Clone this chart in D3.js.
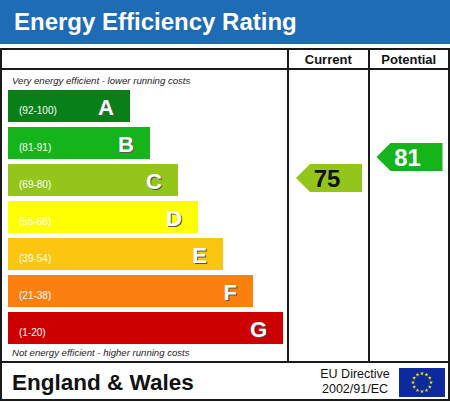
<!DOCTYPE html>
<html>
<head>
<meta charset="utf-8">
<script src="https://cdn.jsdelivr.net/npm/d3@7"></script>
<style>
  body { margin: 0; background: #fff; }
  text { font-family: "Liberation Sans", Arial, sans-serif; }
</style>
</head>
<body>
<svg></svg>
<script>
// band data
const bandLetters = ['A', 'B', 'C', 'D', 'E', 'F', 'G'];
const bandRanges = ['(92-100)', '(81-91)', '(69-80)', '(55-68)', '(39-54)', '(21-38)', '(1-20)'];
const bandMin = [92, 81, 69, 55, 39, 21, 1];
const bandColors = ['#097f18', '#14b41a', '#93c51a', '#ffff00', '#fcc50f', '#fb8010', '#cc0000'];

// ratings
const ratingColumns = ['Current', 'Potential'];
const ratingValues = [75, 81];

const svg = d3.select('svg')
	.attr('width', 450)
	.attr('height', 402);

let width = +svg.attr('width'),
	height = +svg.attr('height'),
	boxTop = 49,
	headRow = 69,
	footTop = 362,
	colX = [288, 369, 449];

const bandOf = v => bandLetters[bandMin.findIndex(m => v >= m)];

const yScale = d3.scaleBand()
	.domain(bandLetters)
	.range([90, 344])
	.paddingInner(5 / 37)
	.paddingOuter(0);

const barWidth = d3.scaleOrdinal()
	.domain(bandLetters)
	.range([122, 142, 170, 190, 215, 245, 275]);

const color = d3.scaleOrdinal()
	.domain(bandLetters)
	.range(bandColors);

// arrow top from score
const arrowY = d3.scaleLinear()
	.domain([0, 100])
	.range([426.5, 76.5]);

const colScale = d3.scaleBand()
	.domain(ratingColumns)
	.range([colX[0], colX[2]]);

// header band
svg.append('rect')
	.attr('width', width)
	.attr('height', 44)
	.attr('fill', '#1e6bb6');
svg.append('text')
	.attr('x', 14)
	.attr('y', 30)
	.attr('fill', '#fff')
	.attr('font-weight', 'bold')
	.attr('font-size', 24)
	.text('Energy Efficiency Rating');

// frame
const grid = svg.append('g')
	.attr('stroke', '#1a1a1a')
	.attr('stroke-width', 2)
	.attr('fill', 'none');
grid.append('rect')
	.attr('x', 1)
	.attr('y', boxTop)
	.attr('width', width - 2)
	.attr('height', 351);
grid.append('line')
	.attr('x1', 1).attr('x2', width - 1)
	.attr('y1', headRow).attr('y2', headRow);
grid.append('line')
	.attr('x1', 1).attr('x2', width - 1)
	.attr('y1', footTop).attr('y2', footTop);
grid.selectAll('.col')
	.data(colX.slice(0, 2))
	.enter().append('line')
	.attr('x1', d => d).attr('x2', d => d)
	.attr('y1', boxTop).attr('y2', footTop);

svg.selectAll('.colHead')
	.data(ratingColumns)
	.enter().append('text')
	.attr('x', d => colScale(d) + colScale.bandwidth() / 2)
	.attr('y', 64)
	.attr('text-anchor', 'middle')
	.attr('font-weight', 'bold')
	.attr('font-size', 13)
	.attr('fill', '#111')
	.text(d => d);

svg.append('text')
	.attr('x', 12)
	.attr('y', 84)
	.attr('font-style', 'italic')
	.attr('font-size', 9.6)
	.attr('fill', '#222')
	.text('Very energy efficient - lower running costs');
svg.append('text')
	.attr('x', 12)
	.attr('y', 356)
	.attr('font-style', 'italic')
	.attr('font-size', 9.6)
	.attr('fill', '#222')
	.text('Not energy efficient - higher running costs');

// bars
const bars = svg.selectAll('.band')
	.data(bandLetters)
	.enter().append('g')
	.attr('class', 'band')
	.attr('transform', d => `translate(8, ${yScale(d)})`);

bars.append('rect')
	.attr('width', d => barWidth(d))
	.attr('height', yScale.bandwidth())
	.attr('fill', d => color(d));

bars.append('text')
	.attr('x', 11)
	.attr('y', 24)
	.attr('font-size', 10)
	.attr('fill', '#fff')
	.text((d, i) => bandRanges[i]);

bars.append('text')
	.attr('x', d => barWidth(d) - 15)
	.attr('y', 26)
	.attr('text-anchor', 'end')
	.attr('font-weight', 'bold')
	.attr('font-size', 22)
	.attr('fill', '#555')
	.text(d => d);
bars.append('text')
	.attr('x', d => barWidth(d) - 16)
	.attr('y', 25)
	.attr('text-anchor', 'end')
	.attr('font-weight', 'bold')
	.attr('font-size', 22)
	.attr('fill', '#fff')
	.text(d => d);

// rating arrows
const arrows = svg.selectAll('.arrow')
	.data(ratingValues)
	.enter().append('g')
	.attr('class', 'arrow')
	.attr('transform', (d, i) => `translate(${colScale(ratingColumns[i]) + 8}, ${arrowY(d)})`);

const aw = 66, ah = 28, tip = 14;
arrows.append('path')
	.attr('d', `M0,${ah / 2}L${tip},0H${aw}V${ah}H${tip}Z`)
	.attr('fill', d => color(bandOf(d)));

arrows.append('text')
	.attr('x', aw / 2 - 2)
	.attr('y', ah / 2 + 9)
	.attr('text-anchor', 'middle')
	.attr('font-weight', 'bold')
	.attr('font-size', 24)
	.attr('fill', d => bandOf(d) === 'C' || bandOf(d) === 'D' ? '#111' : '#fff')
	.text(d => d);

// footer
svg.append('text')
	.attr('x', 12)
	.attr('y', 390)
	.attr('font-weight', 'bold')
	.attr('font-size', 22.5)
	.attr('fill', '#111')
	.text('England & Wales');

const directive = svg.append('g')
	.attr('font-size', 12.5)
	.attr('fill', '#111')
	.attr('text-anchor', 'middle');
directive.append('text')
	.attr('x', 355).attr('y', 378)
	.text('EU Directive');
directive.append('text')
	.attr('x', 355).attr('y', 393)
	.text('2002/91/EC');

const flag = svg.append('g')
	.attr('transform', 'translate(399, 368)');
flag.append('rect')
	.attr('width', 46)
	.attr('height', 29)
	.attr('fill', '#0c2a9c');
const starAngle = d3.range(12).map(i => i * Math.PI / 6);
flag.selectAll('path')
	.data(starAngle)
	.enter().append('path')
	.attr('d', d3.symbol(d3.symbolStar).size(5))
	.attr('transform', a => `translate(${23 + 9 * Math.sin(a)}, ${14.5 - 9 * Math.cos(a)})`)
	.attr('fill', '#ffdd00');
</script>
</body>
</html>
